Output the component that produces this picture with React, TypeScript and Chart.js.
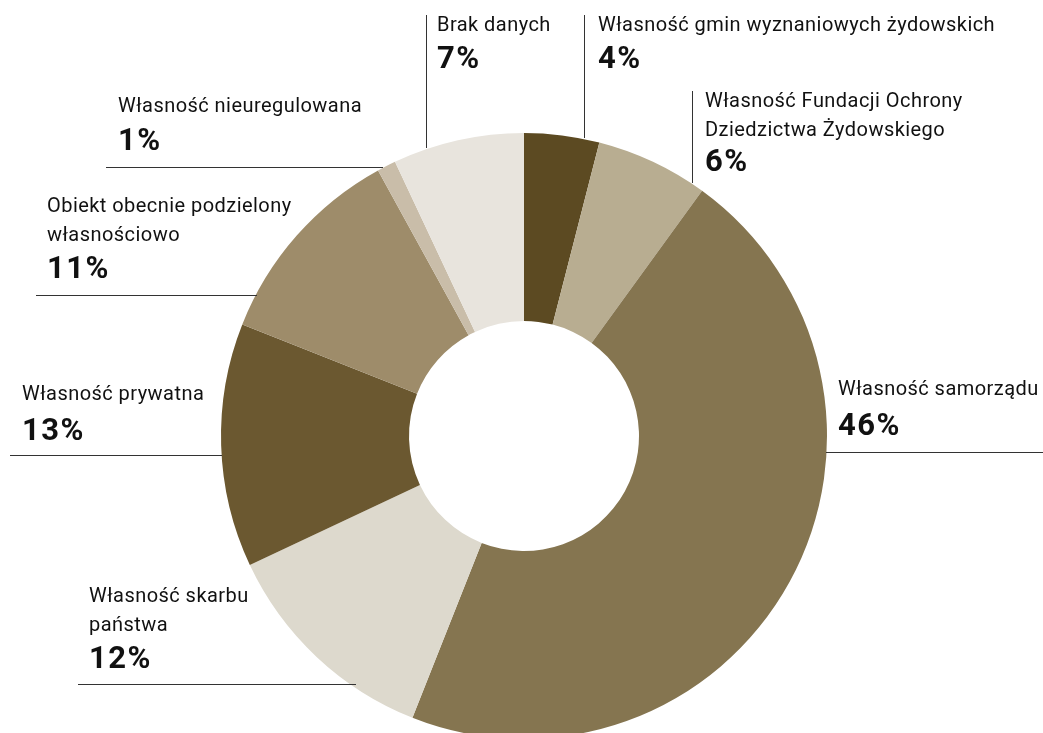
import React, { useEffect, useRef } from "react";
import { Chart, registerables } from "chart.js";

Chart.register(...registerables);

const categories: string[][] = [
  ["Własność gmin wyznaniowych żydowskich"],
  ["Własność Fundacji Ochrony", "Dziedzictwa Żydowskiego"],
  ["Własność samorządu"],
  ["Własność skarbu", "państwa"],
  ["Własność prywatna"],
  ["Obiekt obecnie podzielony", "własnościowo"],
  ["Własność nieuregulowana"],
  ["Brak danych"],
];
const values: number[] = [4, 6, 46, 12, 13, 11, 1, 7];
const colors: string[] = [
  "#5c4a22",
  "#b8ad91",
  "#857550",
  "#ddd9cd",
  "#6b5830",
  "#9e8c6a",
  "#c9bda9",
  "#e8e4dd",
];

// label block layout: text x, first line y (center), percent y, leader line
type Layout = { x: number; y: number; pctY: number; line: [number, number, number, number] };
const layouts: Layout[] = [
  { x: 598, y: 26, pctY: 60, line: [584.5, 15, 584.5, 138] },
  { x: 705, y: 102, pctY: 163, line: [692.5, 91, 692.5, 183] },
  { x: 838, y: 390, pctY: 427, line: [826, 452.5, 1043, 452.5] },
  { x: 89, y: 597, pctY: 660, line: [78, 684.5, 356, 684.5] },
  { x: 22, y: 395, pctY: 432, line: [10, 455.5, 222, 455.5] },
  { x: 47, y: 207, pctY: 270, line: [36, 295.5, 257, 295.5] },
  { x: 118, y: 107, pctY: 142, line: [106, 167.5, 383, 167.5] },
  { x: 437, y: 26, pctY: 60, line: [426.5, 15, 426.5, 148] },
];

const labelPlugin = {
  id: "labelPlugin",
  afterDraw(chart: any) {
    const ctx = chart.ctx as any;
    ctx.save();
    layouts.forEach((l, i) => {
      ctx.strokeStyle = "#333";
      ctx.lineWidth = 1;
      ctx.beginPath();
      ctx.moveTo(l.line[0], l.line[1]);
      ctx.lineTo(l.line[2], l.line[3]);
      ctx.stroke();
      ctx.fillStyle = "#111";
      ctx.textBaseline = "middle";
      ctx.textAlign = "left";
      ctx.font = "20px Roboto";
      ctx.letterSpacing = "0.45px";
      categories[i].forEach((t, j) => {
        ctx.fillText(t, l.x, l.y + j * 29);
      });
      ctx.font = "bold 31px Roboto";
      ctx.letterSpacing = "1.5px";
      ctx.fillText(values[i] + "%", l.x, l.pctY);
    });
    ctx.restore();
  },
};

export default function App() {
  const ref = useRef<HTMLCanvasElement>(null);
  useEffect(() => {
    if (!ref.current) return;
    const chart = new Chart(ref.current, {
      type: "doughnut",
      data: {
        labels: categories.map((c) => c.join(" ")),
        datasets: [
          {
            data: values,
            backgroundColor: colors,
            borderWidth: 0,
          },
        ],
      },
      options: {
        animation: false,
        responsive: false,
        cutout: 115,
        layout: { padding: { left: 221, right: 216, top: 133, bottom: 21 } },
        plugins: { legend: { display: false }, tooltip: { enabled: false } },
      },
      plugins: [labelPlugin],
    });
    return () => chart.destroy();
  }, []);
  return (
    <div
      style={{
        position: "fixed",
        left: 0,
        top: 0,
        width: 1043,
        height: 733,
        overflow: "hidden",
        background: "#fff",
      }}
    >
      <canvas ref={ref} width={1043} height={760} style={{ width: 1043, height: 760 }} />
    </div>
  );
}
